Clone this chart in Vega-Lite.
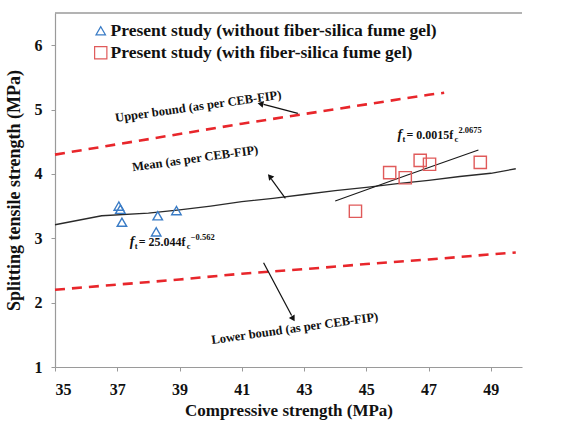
{
  "$schema": "https://vega.github.io/schema/vega-lite/v6.json",
  "width": 467,
  "height": 354,
  "autosize": "none",
  "padding": {"left": 55, "top": 13, "right": 54, "bottom": 62},
  "background": "white",
  "config": {
    "view": {"stroke": null},
    "font": "Liberation Serif",
    "axis": {
      "grid": false,
      "domainColor": "#9a9a9a",
      "domainWidth": 1.2,
      "tickColor": "#9a9a9a",
      "tickSize": 4,
      "labelFont": "Liberation Serif",
      "labelFontWeight": "bold",
      "labelFontSize": 16,
      "labelColor": "#111",
      "titleFont": "Liberation Serif",
      "titleFontWeight": "bold",
      "titleFontSize": 17,
      "titleColor": "#111"
    },
    "legend": {
      "labelFont": "Liberation Serif",
      "labelFontWeight": "bold",
      "labelFontSize": 17.5,
      "labelColor": "#111",
      "labelLimit": 0
    }
  },
  "datasets": {
    "tests": [
      {"fc": 37.05, "ft": 3.50, "series": "Present study (without fiber-silica fume gel)"},
      {"fc": 37.1, "ft": 3.45, "series": "Present study (without fiber-silica fume gel)"},
      {"fc": 37.15, "ft": 3.25, "series": "Present study (without fiber-silica fume gel)"},
      {"fc": 38.3, "ft": 3.35, "series": "Present study (without fiber-silica fume gel)"},
      {"fc": 38.25, "ft": 3.10, "series": "Present study (without fiber-silica fume gel)"},
      {"fc": 38.9, "ft": 3.43, "series": "Present study (without fiber-silica fume gel)"},
      {"fc": 44.65, "ft": 3.42, "series": "Present study (with fiber-silica fume gel)"},
      {"fc": 45.75, "ft": 4.02, "series": "Present study (with fiber-silica fume gel)"},
      {"fc": 46.25, "ft": 3.94, "series": "Present study (with fiber-silica fume gel)"},
      {"fc": 46.73, "ft": 4.21, "series": "Present study (with fiber-silica fume gel)"},
      {"fc": 47.03, "ft": 4.15, "series": "Present study (with fiber-silica fume gel)"},
      {"fc": 48.66, "ft": 4.18, "series": "Present study (with fiber-silica fume gel)"}
    ],
    "mean": [
      {"fc": 35, "ft": 3.21}, {"fc": 36.5, "ft": 3.35}, {"fc": 38, "ft": 3.39},
      {"fc": 39, "ft": 3.44}, {"fc": 40, "ft": 3.50}, {"fc": 41, "ft": 3.57},
      {"fc": 42, "ft": 3.62}, {"fc": 43, "ft": 3.68}, {"fc": 44, "ft": 3.74},
      {"fc": 45, "ft": 3.79}, {"fc": 46, "ft": 3.85}, {"fc": 47, "ft": 3.90},
      {"fc": 48, "ft": 3.96}, {"fc": 49, "ft": 4.01}, {"fc": 49.8, "ft": 4.08}
    ],
    "upper": [
      {"fc": 35, "ft": 4.30}, {"fc": 37, "ft": 4.46}, {"fc": 39, "ft": 4.62},
      {"fc": 41, "ft": 4.78}, {"fc": 43, "ft": 4.93}, {"fc": 45, "ft": 5.08},
      {"fc": 47, "ft": 5.23}, {"fc": 47.5, "ft": 5.26}
    ],
    "lower": [
      {"fc": 35, "ft": 2.20}, {"fc": 37, "ft": 2.28}, {"fc": 39, "ft": 2.36},
      {"fc": 41, "ft": 2.45}, {"fc": 43, "ft": 2.52}, {"fc": 45, "ft": 2.60},
      {"fc": 47, "ft": 2.67}, {"fc": 49, "ft": 2.75}, {"fc": 49.8, "ft": 2.78}
    ],
    "fit": [
      {"fc": 44.0, "ft": 3.58}, {"fc": 46.3, "ft": 3.98}, {"fc": 48.6, "ft": 4.37}
    ]
  },
  "layer": [
    {
      "data": {"name": "upper"},
      "mark": {"type": "line", "color": "#e8262b", "strokeWidth": 2.6, "strokeDash": [10, 7]},
      "encoding": {
        "x": {"field": "fc", "type": "quantitative",
              "scale": {"domain": [35, 50], "nice": false, "zero": false},
              "axis": {"title": "Compressive strength (MPa)", "values": [35, 37, 39, 41, 43, 45, 47, 49],
                       "format": "d", "labelPadding": 10, "titlePadding": 5}},
        "y": {"field": "ft", "type": "quantitative",
              "scale": {"domain": [1, 6.5], "nice": false, "zero": false},
              "axis": {"title": "Splitting tensile strength (MPa)", "values": [1, 2, 3, 4, 5, 6],
                       "format": "d", "labelPadding": 9, "titlePadding": 11, "titleFontSize": 18}}
      }
    },
    {
      "data": {"name": "lower"},
      "mark": {"type": "line", "color": "#e8262b", "strokeWidth": 2.6, "strokeDash": [10, 7]},
      "encoding": {"x": {"field": "fc", "type": "quantitative"}, "y": {"field": "ft", "type": "quantitative"}}
    },
    {
      "data": {"name": "mean"},
      "mark": {"type": "line", "color": "#2a2a2a", "strokeWidth": 1.3},
      "encoding": {"x": {"field": "fc", "type": "quantitative"}, "y": {"field": "ft", "type": "quantitative"}}
    },
    {
      "data": {"name": "fit"},
      "mark": {"type": "line", "color": "#1a1a1a", "strokeWidth": 1.1},
      "encoding": {"x": {"field": "fc", "type": "quantitative"}, "y": {"field": "ft", "type": "quantitative"}}
    },
    {
      "data": {"values": [{"fc": 35, "fc2": 50, "ft": 6.5}]},
      "mark": {"type": "rule", "color": "#9a9a9a", "strokeWidth": 1.5},
      "encoding": {"x": {"field": "fc", "type": "quantitative"}, "x2": {"field": "fc2"}, "y": {"field": "ft", "type": "quantitative"}}
    },
    {
      "data": {"name": "tests"},
      "mark": {"type": "point", "filled": false, "strokeWidth": 1.4, "opacity": 1},
      "encoding": {
        "x": {"field": "fc", "type": "quantitative"},
        "y": {"field": "ft", "type": "quantitative"},
        "shape": {"field": "series", "type": "nominal",
                  "scale": {"domain": ["Present study (without fiber-silica fume gel)", "Present study (with fiber-silica fume gel)"],
                            "range": ["triangle-up", "square"]},
                  "legend": {"title": null, "orient": "none", "legendX": 37, "legendY": 9,
                             "symbolStrokeWidth": 1.2, "rowPadding": 3, "labelOffset": 1, "symbolSize": 80}},
        "color": {"field": "series", "type": "nominal",
                  "scale": {"domain": ["Present study (without fiber-silica fume gel)", "Present study (with fiber-silica fume gel)"],
                            "range": ["#3a7cc6", "#e05a5a"]}},
        "size": {"field": "series", "type": "nominal",
                 "scale": {"domain": ["Present study (without fiber-silica fume gel)", "Present study (with fiber-silica fume gel)"],
                           "range": [90, 150]}}
      }
    },
    {
      "data": {"values": [{"fc": 39.6, "ft": 5.05, "label": "Upper bound (as per CEB-FIP)"}, {"fc": 39.5, "ft": 4.24, "label": "Mean (as per CEB-FIP)"}, {"fc": 42.7, "ft": 1.6, "label": "Lower bound (as per CEB-FIP)"}]},
      "mark": {"type": "text", "font": "Liberation Serif", "fontWeight": "bold", "fontSize": 12.5, "angle": 352, "color": "#111"},
      "encoding": {"x": {"field": "fc", "type": "quantitative"}, "y": {"field": "ft", "type": "quantitative"}, "text": {"field": "label"}}
    },
    {
      "data": {"values": [{"fc": 42.8, "ft": 4.94, "fc2": 41.7, "ft2": 5.08}, {"fc": 41.7, "ft": 2.62, "fc2": 42.6, "ft2": 1.80}, {"fc": 42.4, "ft": 3.62, "fc2": 41.95, "ft2": 3.92}]},
      "mark": {"type": "rule", "color": "#111", "strokeWidth": 1.2},
      "encoding": {"x": {"field": "fc", "type": "quantitative"}, "y": {"field": "ft", "type": "quantitative"}, "x2": {"field": "fc2"}, "y2": {"field": "ft2"}}
    },
    {
      "data": {"values": [{"fc": 41.6, "ft": 5.09}]},
      "mark": {"type": "point", "shape": "triangle-up", "filled": true, "color": "#111", "size": 45, "angle": 282, "opacity": 1},
      "encoding": {"x": {"field": "fc", "type": "quantitative"}, "y": {"field": "ft", "type": "quantitative"}}
    },
    {
      "data": {"values": [{"fc": 42.65, "ft": 1.75}]},
      "mark": {"type": "point", "shape": "triangle-up", "filled": true, "color": "#111", "size": 45, "angle": 150, "opacity": 1},
      "encoding": {"x": {"field": "fc", "type": "quantitative"}, "y": {"field": "ft", "type": "quantitative"}}
    },
    {
      "data": {"values": [{"fc": 41.9, "ft": 3.96}]},
      "mark": {"type": "point", "shape": "triangle-up", "filled": true, "color": "#111", "size": 45, "angle": 320, "opacity": 1},
      "encoding": {"x": {"field": "fc", "type": "quantitative"}, "y": {"field": "ft", "type": "quantitative"}}
    },
    {
      "data": {"values": [{"fc": 46.0, "ft": 4.55, "label": "f"}, {"fc": 37.4, "ft": 2.88, "label": "f"}]},
      "mark": {"type": "text", "align": "left", "baseline": "alphabetic", "font": "Liberation Serif", "fontStyle": "italic", "fontWeight": "bold", "fontSize": 14, "color": "#111"},
      "encoding": {"x": {"field": "fc", "type": "quantitative"}, "y": {"field": "ft", "type": "quantitative"}, "text": {"field": "label"}}
    },
    {
      "data": {"values": [{"fc": 46.0, "ft": 4.55, "label": "t"}, {"fc": 37.4, "ft": 2.88, "label": "t"}]},
      "mark": {"type": "text", "align": "left", "baseline": "alphabetic", "dx": 5, "dy": 3, "font": "Liberation Serif", "fontWeight": "bold", "fontSize": 8.5, "color": "#111"},
      "encoding": {"x": {"field": "fc", "type": "quantitative"}, "y": {"field": "ft", "type": "quantitative"}, "text": {"field": "label"}}
    },
    {
      "data": {"values": [{"fc": 46.0, "ft": 4.55, "label": " = 0.0015f"}, {"fc": 37.4, "ft": 2.88, "label": " = 25.044f"}]},
      "mark": {"type": "text", "align": "left", "baseline": "alphabetic", "dx": 9, "font": "Liberation Serif", "fontWeight": "bold", "fontSize": 12, "color": "#111"},
      "encoding": {"x": {"field": "fc", "type": "quantitative"}, "y": {"field": "ft", "type": "quantitative"}, "text": {"field": "label"}}
    },
    {
      "data": {"values": [{"fc": 46.0, "ft": 4.55, "label": "c"}, {"fc": 37.4, "ft": 2.88, "label": "c"}]},
      "mark": {"type": "text", "align": "left", "baseline": "alphabetic", "dx": 57, "dy": 3, "font": "Liberation Serif", "fontWeight": "bold", "fontSize": 8.5, "color": "#111"},
      "encoding": {"x": {"field": "fc", "type": "quantitative"}, "y": {"field": "ft", "type": "quantitative"}, "text": {"field": "label"}}
    },
    {
      "data": {"values": [{"fc": 46.0, "ft": 4.55, "label": "2.0675"}, {"fc": 37.4, "ft": 2.88, "label": "−0.562"}]},
      "mark": {"type": "text", "align": "left", "baseline": "alphabetic", "dx": 61, "dy": -6, "font": "Liberation Serif", "fontWeight": "bold", "fontSize": 8.5, "color": "#111"},
      "encoding": {"x": {"field": "fc", "type": "quantitative"}, "y": {"field": "ft", "type": "quantitative"}, "text": {"field": "label"}}
    }
  ]
}
